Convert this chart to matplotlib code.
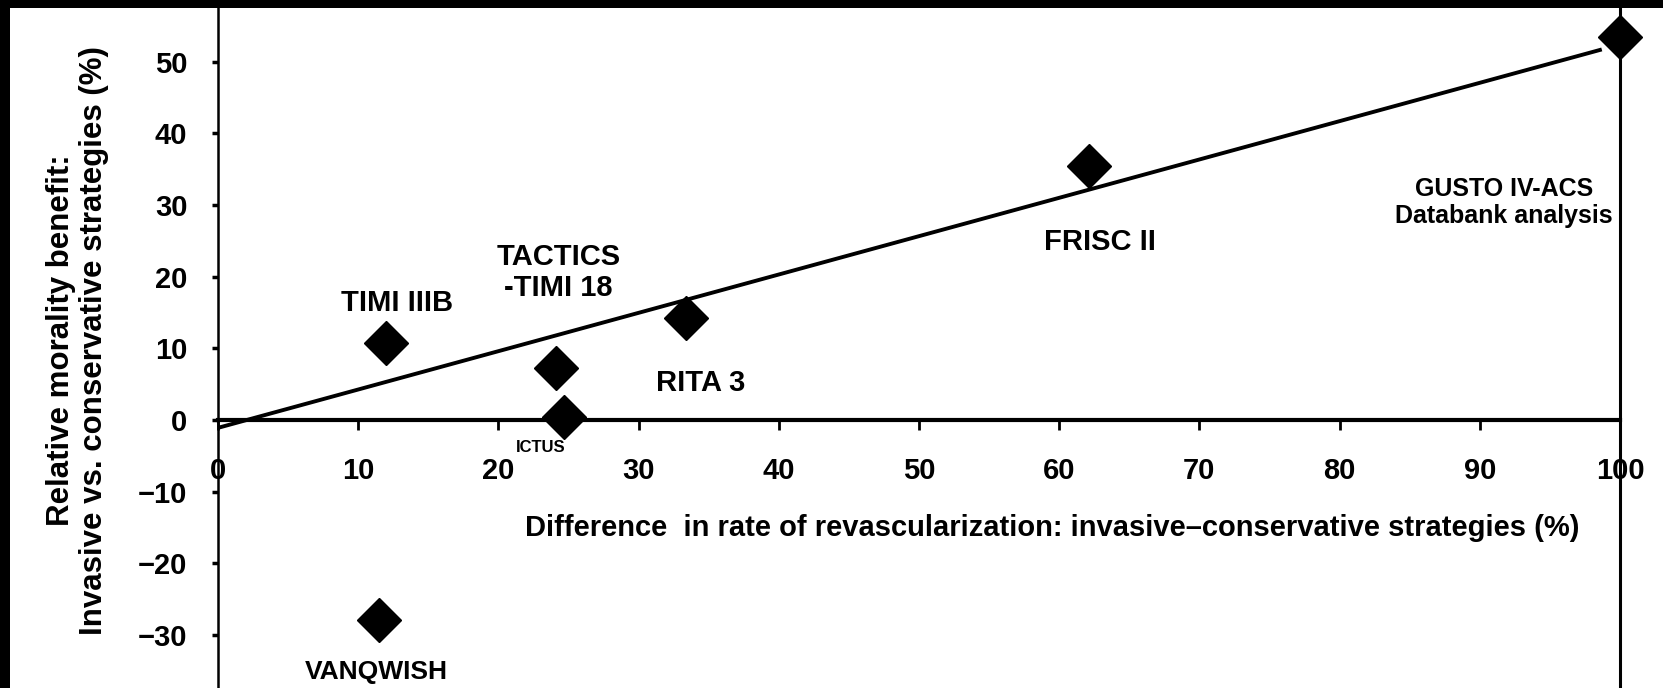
import matplotlib
matplotlib.use('Agg')
from matplotlib import pyplot as plt, patches

# trials: revascularization difference (%) vs relative mortality benefit (%)
trials = ['TIMI IIIB', 'TACTICS-TIMI 18', 'ICTUS', 'RITA 3', 'FRISC II',
          'GUSTO IV-ACS', 'VANQWISH']
revasc_diff = [12.0, 24.1, 24.7, 33.4, 62.1, 100.0, 11.5]
mortality_benefit = [10.7, 7.2, 0.4, 14.2, 35.4, 53.4, -27.9]

# regression line end points
fit_x = [0.0, 98.7]
fit_y = [-1.1, 51.7]

x_ticks = [0, 10, 20, 30, 40, 50, 60, 70, 80, 90, 100]
y_ticks = [-30, -20, -10, 0, 10, 20, 30, 40, 50]

# label text and where it sits (data coords)
label_text = ['TIMI IIIB', 'TACTICS\n-TIMI 18', 'ICTUS', 'RITA 3', 'FRISC II',
              'GUSTO IV-ACS\nDatabank analysis', 'VANQWISH']
label_x = [12.8, 24.3, 23.0, 34.4, 62.9, 99.5, 11.3]
label_y = [16.3, 20.6, -3.8, 5.2, 24.9, 30.3, -35.2]
label_size = [21, 21, 12, 21, 21, 18, 19]
label_ha = ['center', 'center', 'center', 'center', 'center', 'right', 'center']

fonts = ['Liberation Sans', 'DejaVu Sans']

W, H = 1663, 688
fig = plt.figure(figsize=(W / 100, H / 100), dpi=100)
fig.patch.set_facecolor('white')

ax = fig.add_axes([218 / W, 0, 1402 / W, 1])
ax.set_xlim(0, 100)
ax.set_ylim(-37.4, 58.6)

ax.spines['top'].set_visible(False)
ax.spines['bottom'].set_position(('data', 0))
ax.spines['bottom'].set_linewidth(3)
ax.spines['left'].set_linewidth(1.8)
ax.spines['right'].set_linewidth(2.2)

ax.plot(fit_x, fit_y, color='black', linewidth=2.8, solid_capstyle='butt')
ax.plot(revasc_diff, mortality_benefit, linestyle='none', marker='D',
        markersize=22, color='black', clip_on=False, zorder=5)

for txt, lx, ly, fs, ha in zip(label_text, label_x, label_y, label_size, label_ha):
    ax.text(lx, ly, txt, ha=ha, va='center', fontsize=fs,
            fontweight='bold', family=fonts, linespacing=1.15,
            multialignment='center')

ax.set_xticks(x_ticks)
ax.set_xticklabels([str(v) for v in x_ticks])
ax.set_yticks(y_ticks)
ax.set_yticklabels([str(v).replace('-', '\u2212') for v in y_ticks])
ax.tick_params(axis='x', direction='out', length=7, width=2, pad=20,
               labelsize=21)
ax.tick_params(axis='y', direction='out', length=4, width=2.5, pad=18,
               labelsize=21)
for lab in ax.get_xticklabels() + ax.get_yticklabels():
    lab.set_fontweight('bold')
    lab.set_family(fonts)

ax.set_xlabel('Difference  in rate of revascularization: '
              'invasive\u2013conservative strategies (%)',
              fontsize=21, fontweight='bold', family=fonts)
ax.xaxis.set_label_coords(0.595, 0.233)
ax.xaxis.label.set_va('center')

ax.set_ylabel('Relative morality benefit:\n'
              'Invasive vs. conservative strategies (%)',
              fontsize=22.5, fontweight='bold', family=fonts, linespacing=1.12)
ax.yaxis.label.set_va('center')
ax.yaxis.label.set_ha('center')
ax.yaxis.set_label_coords(-0.100, 0.505)

# black scan border on the top and left edges
fig.patches.append(patches.Rectangle((0, 0), 10 / W, 1, transform=fig.transFigure,
                                     facecolor='black', edgecolor='none', zorder=10))
fig.patches.append(patches.Rectangle((0, 1 - 8 / H), 1, 8 / H, transform=fig.transFigure,
                                     facecolor='black', edgecolor='none', zorder=10))

fig.savefig('out.png', dpi=100, facecolor=fig.get_facecolor())
